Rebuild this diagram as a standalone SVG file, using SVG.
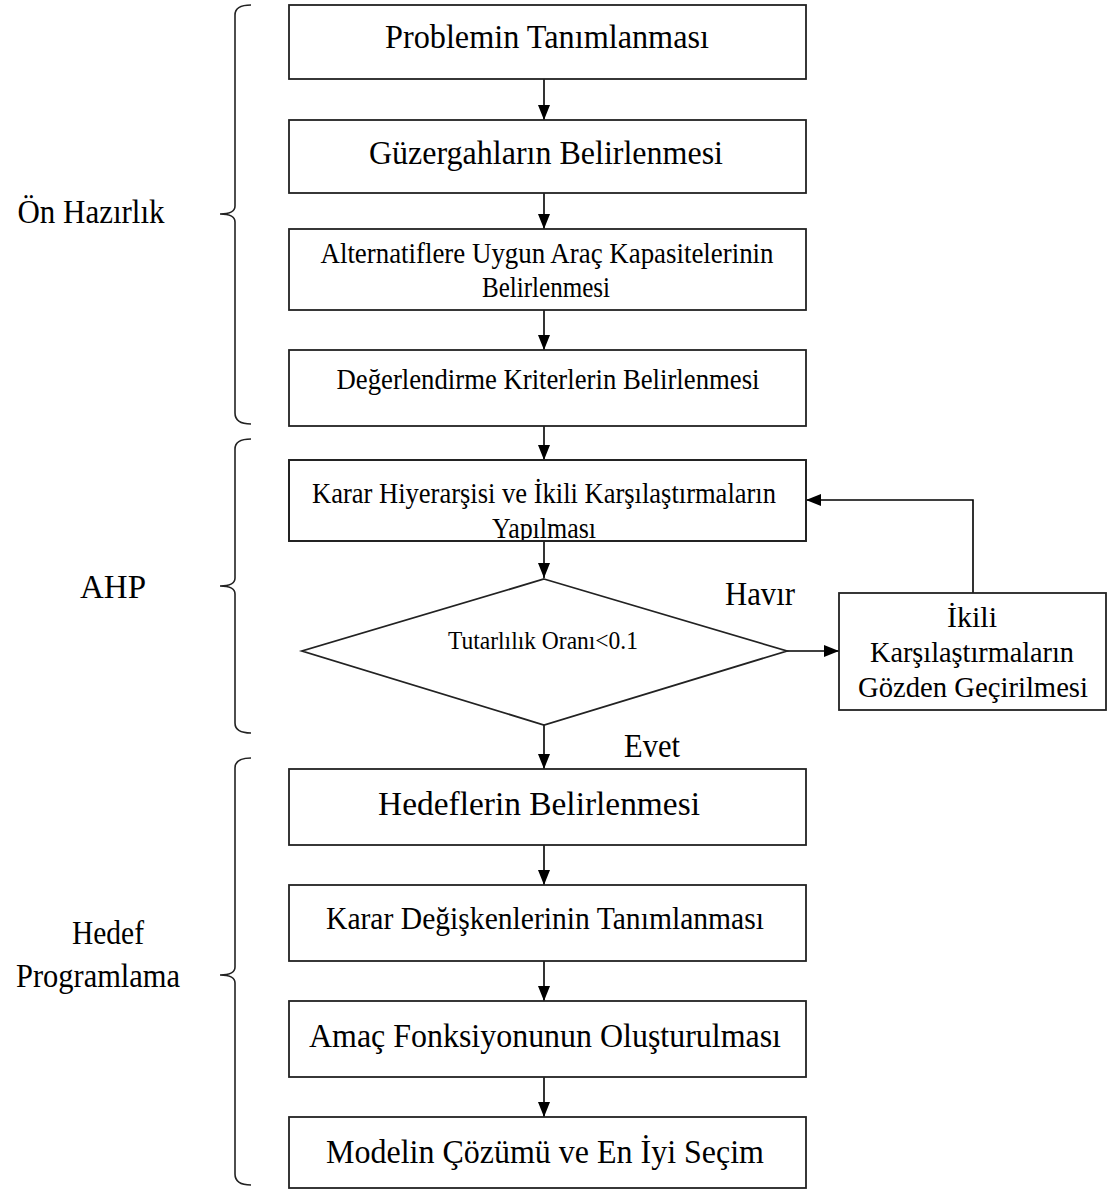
<svg xmlns="http://www.w3.org/2000/svg" width="1110" height="1192" viewBox="0 0 1110 1192">
<defs>
<style>
.box{fill:#fff;stroke:#222;stroke-width:1.8}
.t{font-family:"Liberation Serif","Times New Roman",serif;fill:#000;text-anchor:middle}
.lbl{font-family:"Liberation Serif","Times New Roman",serif;fill:#000;text-anchor:middle;font-size:33px}
.con{fill:none;stroke:#000;stroke-width:1.6}
.brace{fill:none;stroke:#222;stroke-width:1.6}
</style>
<marker id="ah" markerUnits="userSpaceOnUse" markerWidth="16" markerHeight="14" refX="15" refY="7" orient="auto">
<path d="M0,1 L15,7 L0,13 z" fill="#000"/>
</marker>
<clipPath id="c5"><rect x="289" y="460" width="517" height="80"/></clipPath>
</defs>
<rect width="1110" height="1192" fill="#fff"/>

<g id="braces">
<path class="brace" d="M251 5 Q235 5 235 15 L235 206 Q235 214 220 214 Q235 214 235 222 L235 413 Q235 424 251 424"/>
<path class="brace" d="M251 439 Q235 439 235 449 L235 578 Q235 586 220 586 Q235 586 235 594 L235 723 Q235 733 251 733"/>
<path class="brace" d="M251 758 Q235 758 235 768 L235 967 Q235 975 220 975 Q235 975 235 983 L235 1174 Q235 1185 251 1185"/>
</g>

<g id="labels">
<text class="lbl" x="91" y="223" textLength="147" lengthAdjust="spacingAndGlyphs">Ön Hazırlık</text>
<text class="lbl" x="113" y="598" textLength="66" lengthAdjust="spacingAndGlyphs">AHP</text>
<text class="lbl" x="108" y="944" textLength="72" lengthAdjust="spacingAndGlyphs">Hedef</text>
<text class="lbl" x="98" y="987" textLength="164" lengthAdjust="spacingAndGlyphs">Programlama</text>
<text class="lbl" x="760" y="605" textLength="70" lengthAdjust="spacingAndGlyphs">Havır</text>
<text class="lbl" x="652" y="757" textLength="56" lengthAdjust="spacingAndGlyphs">Evet</text>
</g>

<g id="connectors">
<line class="con" x1="544" y1="79" x2="544" y2="120" marker-end="url(#ah)"/>
<line class="con" x1="544" y1="193" x2="544" y2="229" marker-end="url(#ah)"/>
<line class="con" x1="544" y1="310" x2="544" y2="350" marker-end="url(#ah)"/>
<line class="con" x1="544" y1="426" x2="544" y2="460" marker-end="url(#ah)"/>
<line class="con" x1="544" y1="541" x2="544" y2="578" marker-end="url(#ah)"/>
<line class="con" x1="544" y1="725" x2="544" y2="769" marker-end="url(#ah)"/>
<line class="con" x1="544" y1="845" x2="544" y2="885" marker-end="url(#ah)"/>
<line class="con" x1="544" y1="961" x2="544" y2="1001" marker-end="url(#ah)"/>
<line class="con" x1="544" y1="1077" x2="544" y2="1117" marker-end="url(#ah)"/>
<line class="con" x1="787" y1="651" x2="839" y2="651" marker-end="url(#ah)"/>
<polyline class="con" points="973,593 973,500 806,500" marker-end="url(#ah)"/>
</g>

<g id="n1">
<rect class="box" x="289" y="5" width="517" height="74"/>
<text class="t" x="547" y="48" font-size="34" textLength="324" lengthAdjust="spacingAndGlyphs">Problemin Tanımlanması</text>
</g>
<g id="n2">
<rect class="box" x="289" y="120" width="517" height="73"/>
<text class="t" x="546" y="164" font-size="34" textLength="354" lengthAdjust="spacingAndGlyphs">Güzergahların Belirlenmesi</text>
</g>
<g id="n3">
<rect class="box" x="289" y="229" width="517" height="81"/>
<text class="t" x="547" y="263" font-size="28.5" textLength="453" lengthAdjust="spacingAndGlyphs">Alternatiflere Uygun Araç Kapasitelerinin</text>
<text class="t" x="546" y="297" font-size="28.5" textLength="128" lengthAdjust="spacingAndGlyphs">Belirlenmesi</text>
</g>
<g id="n4">
<rect class="box" x="289" y="350" width="517" height="76"/>
<text class="t" x="548" y="389" font-size="28.5" textLength="423" lengthAdjust="spacingAndGlyphs">Değerlendirme Kriterlerin Belirlenmesi</text>
</g>
<g id="n5">
<rect class="box" x="289" y="460" width="517" height="81"/>
<g clip-path="url(#c5)">
<text class="t" x="544" y="503" font-size="29" textLength="464" lengthAdjust="spacingAndGlyphs">Karar Hiyerarşisi ve İkili Karşılaştırmaların</text>
<text class="t" x="544" y="538" font-size="29" textLength="104" lengthAdjust="spacingAndGlyphs">Yapılması</text>
</g>
<rect x="289" y="460" width="517" height="81" fill="none" stroke="#222" stroke-width="1.8"/>
</g>
<g id="n6">
<polygon class="box" points="544,579 787,651 544,725 302,651"/>
<text class="t" x="543" y="649" font-size="25" textLength="190" lengthAdjust="spacingAndGlyphs">Tutarlılık Oranı&lt;0.1</text>
</g>
<g id="n7">
<rect class="box" x="839" y="593" width="267" height="117"/>
<text class="t" x="972" y="627" font-size="29" textLength="50" lengthAdjust="spacingAndGlyphs">İkili</text>
<text class="t" x="972" y="662" font-size="29" textLength="204" lengthAdjust="spacingAndGlyphs">Karşılaştırmaların</text>
<text class="t" x="973" y="697" font-size="29" textLength="230" lengthAdjust="spacingAndGlyphs">Gözden Geçirilmesi</text>
</g>
<g id="n8">
<rect class="box" x="289" y="769" width="517" height="76"/>
<text class="t" x="539" y="815" font-size="34" textLength="322" lengthAdjust="spacingAndGlyphs">Hedeflerin Belirlenmesi</text>
</g>
<g id="n9">
<rect class="box" x="289" y="885" width="517" height="76"/>
<text class="t" x="545" y="929" font-size="31" textLength="438" lengthAdjust="spacingAndGlyphs">Karar Değişkenlerinin Tanımlanması</text>
</g>
<g id="n10">
<rect class="box" x="289" y="1001" width="517" height="76"/>
<text class="t" x="545" y="1047" font-size="34" textLength="472" lengthAdjust="spacingAndGlyphs">Amaç Fonksiyonunun Oluşturulması</text>
</g>
<g id="n11">
<rect class="box" x="289" y="1117" width="517" height="71"/>
<text class="t" x="545" y="1163" font-size="34" textLength="438" lengthAdjust="spacingAndGlyphs">Modelin Çözümü ve En İyi Seçim</text>
</g>
</svg>
